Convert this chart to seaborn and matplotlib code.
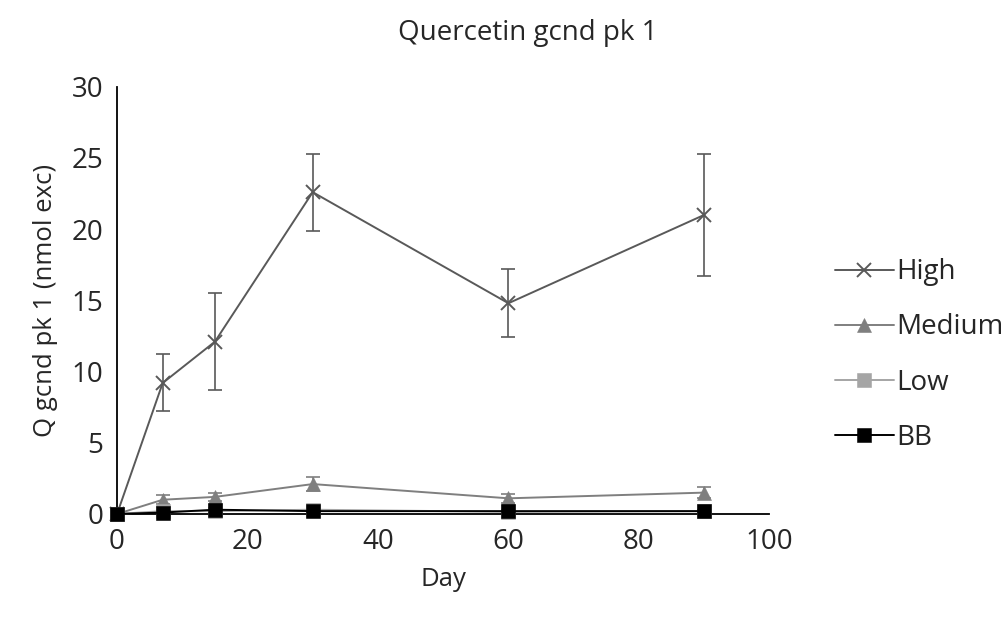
import numpy as np
import pandas as pd
import matplotlib
matplotlib.use("Agg")
import matplotlib.pyplot as plt
import seaborn as sns

days = [0, 7, 15, 30, 60, 90]
high = [0.0, 9.2, 12.1, 22.6, 14.8, 21.0]
high_err = [0.0, 2.0, 3.4, 2.7, 2.4, 4.3]
medium = [0.0, 1.0, 1.2, 2.1, 1.1, 1.5]
medium_err = [0.0, 0.3, 0.3, 0.5, 0.3, 0.4]
low = [0.0, 0.2, 0.2, 0.3, 0.15, 0.2]
low_err = [0.0, 0.1, 0.1, 0.2, 0.1, 0.1]
bb = [0.0, 0.1, 0.3, 0.2, 0.2, 0.2]
bb_err = [0.0, 0.05, 0.1, 0.05, 0.05, 0.05]

groups = ["High", "Medium", "Low", "BB"]
colors = {"High": "#595959", "Medium": "#7f7f7f", "Low": "#a5a5a5", "BB": "#000000"}
markers = {"High": "x", "Medium": "^", "Low": "s", "BB": "s"}

df = pd.DataFrame({
    "Day": days * 4,
    "value": high + medium + low + bb,
    "err": high_err + medium_err + low_err + bb_err,
    "group": sum([[g] * len(days) for g in groups], []),
})

sns.set_theme(style="white")
plt.rcParams["font.family"] = ["Open Sans", "DejaVu Sans"]

fig = plt.figure(figsize=(10.03, 6.2), dpi=100)
ax = fig.add_axes([0.1167, 0.171, 0.6503, 0.689])

# error bars first, then lines + markers through seaborn
for g in groups:
    d = df[df.group == g]
    ax.errorbar(d["Day"], d["value"], yerr=d["err"], fmt="none",
                ecolor=colors[g], elinewidth=1.2, capsize=5, capthick=1.2, zorder=2)
    mk = markers[g]
    sns.lineplot(data=d, x="Day", y="value", color=colors[g], marker=mk,
                 markersize={"x": 9.5, "^": 10.5, "s": 10}[mk],
                 markeredgewidth=1.4 if mk == "x" else 0.4,
                 markeredgecolor=colors[g], linewidth=1.4, label=g,
                 ax=ax, zorder=3, clip_on=False)

ax.set_xlim(0, 100)
ax.set_ylim(0, 30)
ax.set_xticks([0, 20, 40, 60, 80, 100])
ax.set_yticks([0, 5, 10, 15, 20, 25, 30])
ax.tick_params(axis="both", length=0, labelsize=20, pad=10)
for s in ["top", "right"]:
    ax.spines[s].set_visible(False)
for s in ["left", "bottom"]:
    ax.spines[s].set_color("black")
    ax.spines[s].set_linewidth(1.3)
ax.set_xlabel("Day", fontsize=18.5, labelpad=8)
ax.set_ylabel("Q gcnd pk 1 (nmol exc)", fontsize=18.5, labelpad=10)
fig.suptitle("Quercetin gcnd pk 1", fontsize=20, x=0.526, y=0.97)

ax.legend(loc="center left", bbox_to_anchor=(1.084, 0.372),
          frameon=False, fontsize=20, handlelength=2.1, handletextpad=0.1,
          labelspacing=0.98, borderaxespad=0)

fig.savefig("out.png", dpi=100)
